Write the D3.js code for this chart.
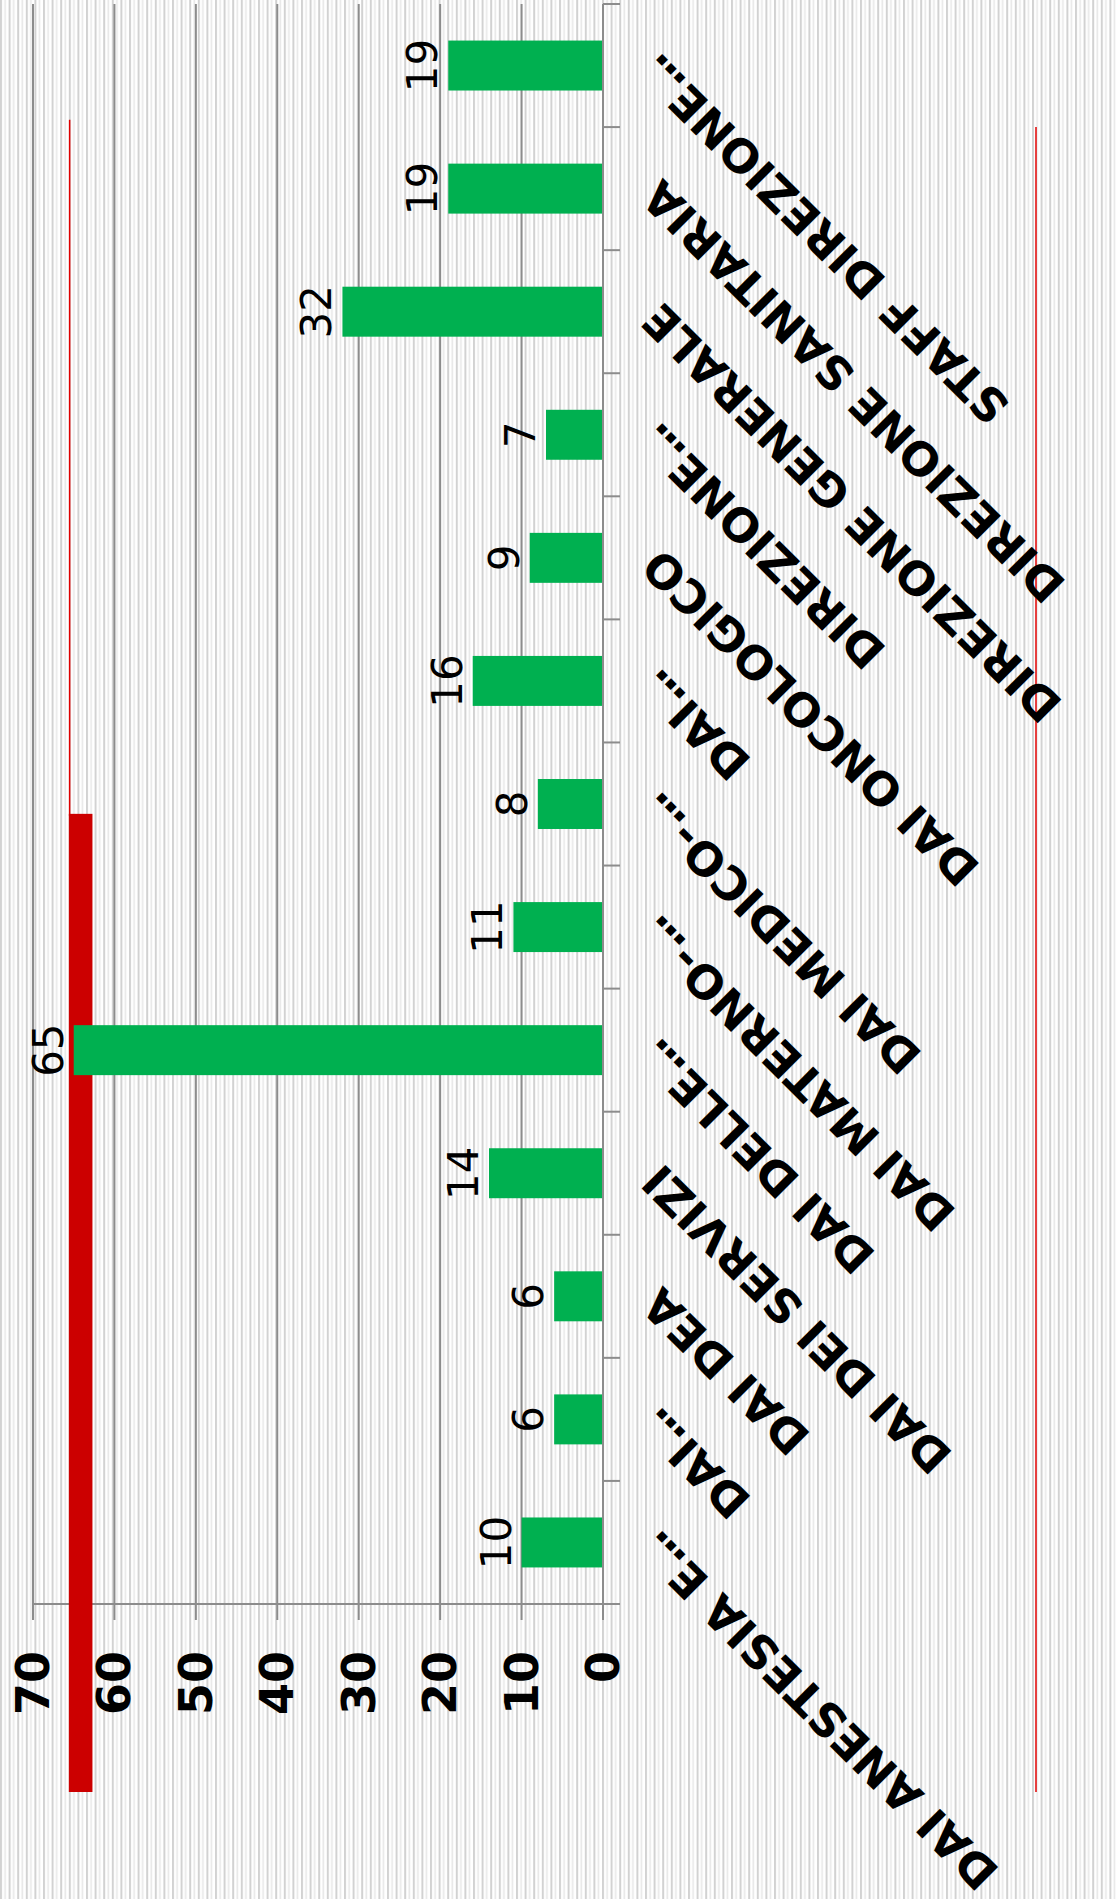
<!DOCTYPE html>
<html>
<head>
<meta charset="utf-8">
<script src="https://cdn.jsdelivr.net/npm/d3@7"></script>
<style>
  html, body { margin: 0; padding: 0; background: #fff; }
  svg { display: block; }
</style>
</head>
<body>
<svg id="chart" width="1117" height="1899"></svg>
<script>
// ---- data (first category drawn at the bottom) ----
const categories = [
  "DAI ANESTESIA E...",
  "DAI...",
  "DAI DEA",
  "DAI DEI SERVIZI",
  "DAI DELLE...",
  "DAI MATERNO-...",
  "DAI MEDICO-...",
  "DAI...",
  "DAI ONCOLOGICO",
  "DIREZIONE...",
  "DIREZIONE GENERALE",
  "DIREZIONE SANITARIA",
  "STAFF DIREZIONE..."
];
const values = [10, 6, 6, 14, 65, 11, 8, 16, 9, 7, 32, 19, 19];
const valueTicks = [0, 10, 20, 30, 40, 50, 60, 70];
const valueMax = 70;
// red reference marks seen on the chart
const refThinValue = 65.5;
const refThickLow = 62.7;
const refThickHigh = 65.6;

// ---- layout ----
const W = 1117, H = 1899;
const axisX = 603;            // category axis (value 0)
const plotTop = 4, plotBottom = 1604;
const svg = d3.select("#chart");

// background: narrow vertical stripe pattern
const defs = svg.append("defs");
const pat = defs.append("pattern").attr("id", "stripes")
  .attr("patternUnits", "userSpaceOnUse").attr("width", 8.6).attr("height", 10);
pat.append("rect").attr("width", 8.6).attr("height", 10).attr("fill", "#ffffff");
pat.append("rect").attr("x", 0).attr("width", 2).attr("height", 10).attr("fill", "#d2d2d2");
pat.append("rect").attr("x", 4.3).attr("width", 1.6).attr("height", 10).attr("fill", "#e8e8e8");
svg.append("rect").attr("width", W).attr("height", H).attr("fill", "url(#stripes)");

// scales (chart rotated: values grow to the left, categories go upward)
const x = d3.scaleLinear().domain([0, valueMax]).range([axisX, 33]);
const y = d3.scaleBand().domain(d3.range(categories.length))
  .range([plotBottom, plotTop]).paddingInner(0.594).paddingOuter(0.297);
const yb = d3.scaleBand().domain(d3.range(categories.length))
  .range([plotBottom, plotTop]);

const axisColor = "#8c8c8c";

// major gridlines
svg.append("g").selectAll("line").data(valueTicks.filter(d => d > 0)).join("line")
  .attr("x1", d => x(d)).attr("x2", d => x(d))
  .attr("y1", plotTop).attr("y2", plotBottom + 16)
  .attr("stroke", axisColor).attr("stroke-width", 2);

// value axis (bottom, horizontal in picture)
svg.append("line").attr("x1", x(valueMax)).attr("x2", axisX + 17)
  .attr("y1", plotBottom).attr("y2", plotBottom)
  .attr("stroke", axisColor).attr("stroke-width", 2);
svg.append("line").attr("x1", axisX).attr("x2", axisX)
  .attr("y1", plotBottom).attr("y2", plotBottom + 16)
  .attr("stroke", axisColor).attr("stroke-width", 2);

// value tick labels
svg.append("g").selectAll("text").data(valueTicks).join("text")
  .attr("transform", d => `translate(${x(d)},${plotBottom + 47}) rotate(-90)`)
  .attr("text-anchor", "end").attr("dominant-baseline", "central")
  .attr("font-family", "DejaVu Sans, Verdana, sans-serif")
  .attr("font-weight", "bold").attr("font-size", 46).attr("fill", "#000")
  .text(d => d);

// red reference marks (drawn beneath the bars)
const catTop = yb(categories.length - 1);
svg.append("line")
  .attr("x1", x(refThinValue)).attr("x2", x(refThinValue))
  .attr("y1", catTop + yb.bandwidth() * 0.94).attr("y2", yb(6) + yb.bandwidth() * 0.6)
  .attr("stroke", "#e00000").attr("stroke-width", 1.5);
svg.append("rect")
  .attr("x", x(refThickHigh)).attr("width", x(refThickLow) - x(refThickHigh))
  .attr("y", yb(6) + yb.bandwidth() * 0.58).attr("height", (plotBottom + 188) - (yb(6) + yb.bandwidth() * 0.58))
  .attr("fill", "#cc0000");
svg.append("line")
  .attr("x1", 1036).attr("x2", 1036)
  .attr("y1", catTop + yb.bandwidth()).attr("y2", plotBottom + 188)
  .attr("stroke", "#e00000").attr("stroke-width", 1.5);

// bars
svg.append("g").selectAll("rect").data(values).join("rect")
  .attr("x", d => x(d)).attr("width", d => axisX - x(d))
  .attr("y", (d, i) => y(i)).attr("height", y.bandwidth())
  .attr("fill", "#00b050");

// category axis (vertical in picture)
svg.append("line").attr("x1", axisX).attr("x2", axisX)
  .attr("y1", plotTop).attr("y2", plotBottom + 16)
  .attr("stroke", axisColor).attr("stroke-width", 2);
svg.append("g").selectAll("line").data(d3.range(categories.length)).join("line")
  .attr("x1", axisX).attr("x2", axisX + 17)
  .attr("y1", i => yb(i)).attr("y2", i => yb(i))
  .attr("stroke", axisColor).attr("stroke-width", 2);
svg.append("line").attr("x1", axisX).attr("x2", axisX + 17)
  .attr("y1", plotTop).attr("y2", plotTop)
  .attr("stroke", axisColor).attr("stroke-width", 2);

// data labels
svg.append("g").selectAll("text").data(values).join("text")
  .attr("transform", (d, i) => `translate(${x(d) - 11},${y(i) + y.bandwidth() / 2}) rotate(-90)`)
  .attr("text-anchor", "middle")
  .attr("font-family", "DejaVu Sans, Verdana, sans-serif")
  .attr("font-size", 42).attr("fill", "#000")
  .text(d => d);

// category labels (rotated, ending at the axis); truncation dots set tight
const catText = svg.append("g").selectAll("text").data(categories).join("text")
  .attr("transform", (d, i) => `translate(${axisX + 48},${yb(i) + yb.bandwidth() / 2}) rotate(-135)`)
  .attr("text-anchor", "end").attr("dominant-baseline", "central")
  .attr("font-family", "DejaVu Sans, Verdana, sans-serif")
  .attr("font-weight", "bold").attr("font-size", 46).attr("fill", "#000");
catText.each(function(d) {
  const t = d3.select(this);
  const trunc = d.endsWith("...");
  const main = trunc ? d.slice(0, -3) : d;
  t.append("tspan").text(main);
  if (trunc) t.append("tspan").attr("letter-spacing", -5).text("...");
});
</script>
</body>
</html>
